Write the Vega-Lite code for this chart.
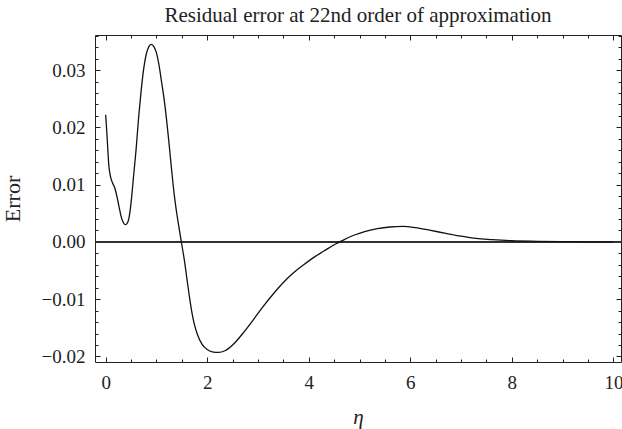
{
  "$schema": "https://vega.github.io/schema/vega-lite/v6.json",
  "width": 526,
  "height": 327,
  "autosize": {"type": "none"},
  "padding": {"left": 95, "top": 35, "right": 1, "bottom": 67},
  "background": "white",
  "config": {
    "view": {"stroke": "#222", "strokeWidth": 1},
    "font": "Liberation Serif",
    "axis": {"grid": false, "domain": false, "labelFont": "Liberation Serif", "titleFont": "Liberation Serif", "labelColor": "#222", "titleColor": "#222", "tickColor": "#222"}
  },
  "title": {"text": "Residual error at 22nd order of approximation", "font": "Liberation Serif", "fontSize": 21, "fontWeight": "normal", "color": "#222", "anchor": "middle", "frame": "group", "baseline": "alphabetic", "offset": 12, "dy": 20},
  "data": {"values": [
    {"eta": 0.00, "err": 0.0222},
    {"eta": 0.02, "err": 0.0195},
    {"eta": 0.04, "err": 0.0165},
    {"eta": 0.06, "err": 0.0136},
    {"eta": 0.09, "err": 0.0116},
    {"eta": 0.13, "err": 0.0104},
    {"eta": 0.18, "err": 0.0094},
    {"eta": 0.22, "err": 0.0080},
    {"eta": 0.26, "err": 0.0063},
    {"eta": 0.30, "err": 0.0046},
    {"eta": 0.34, "err": 0.0035},
    {"eta": 0.38, "err": 0.0030},
    {"eta": 0.42, "err": 0.0032},
    {"eta": 0.46, "err": 0.0042},
    {"eta": 0.50, "err": 0.0068},
    {"eta": 0.55, "err": 0.0115},
    {"eta": 0.60, "err": 0.0162},
    {"eta": 0.65, "err": 0.0218},
    {"eta": 0.70, "err": 0.0265},
    {"eta": 0.75, "err": 0.0303},
    {"eta": 0.80, "err": 0.0328},
    {"eta": 0.85, "err": 0.0341},
    {"eta": 0.90, "err": 0.0345},
    {"eta": 0.95, "err": 0.0341},
    {"eta": 1.00, "err": 0.0330},
    {"eta": 1.05, "err": 0.0309},
    {"eta": 1.10, "err": 0.0280},
    {"eta": 1.15, "err": 0.0250},
    {"eta": 1.20, "err": 0.0213},
    {"eta": 1.25, "err": 0.0170},
    {"eta": 1.30, "err": 0.0125},
    {"eta": 1.35, "err": 0.0083},
    {"eta": 1.40, "err": 0.0050},
    {"eta": 1.45, "err": 0.0022},
    {"eta": 1.50, "err": -0.0005},
    {"eta": 1.55, "err": -0.0032},
    {"eta": 1.60, "err": -0.0064},
    {"eta": 1.65, "err": -0.0096},
    {"eta": 1.70, "err": -0.0124},
    {"eta": 1.75, "err": -0.0145},
    {"eta": 1.80, "err": -0.0160},
    {"eta": 1.90, "err": -0.0179},
    {"eta": 2.00, "err": -0.0188},
    {"eta": 2.10, "err": -0.0192},
    {"eta": 2.22, "err": -0.0193},
    {"eta": 2.35, "err": -0.0190},
    {"eta": 2.50, "err": -0.0180},
    {"eta": 2.70, "err": -0.0160},
    {"eta": 2.90, "err": -0.0137},
    {"eta": 3.10, "err": -0.0113},
    {"eta": 3.30, "err": -0.0091},
    {"eta": 3.50, "err": -0.0071},
    {"eta": 3.70, "err": -0.0054},
    {"eta": 3.90, "err": -0.0040},
    {"eta": 4.10, "err": -0.0027},
    {"eta": 4.30, "err": -0.0016},
    {"eta": 4.50, "err": -0.0005},
    {"eta": 4.70, "err": 0.0004},
    {"eta": 4.90, "err": 0.0012},
    {"eta": 5.10, "err": 0.0018},
    {"eta": 5.35, "err": 0.0023},
    {"eta": 5.60, "err": 0.0026},
    {"eta": 5.85, "err": 0.0027},
    {"eta": 6.10, "err": 0.0025},
    {"eta": 6.40, "err": 0.0020},
    {"eta": 6.70, "err": 0.0015},
    {"eta": 7.00, "err": 0.0010},
    {"eta": 7.30, "err": 0.0006},
    {"eta": 7.60, "err": 0.0004},
    {"eta": 8.00, "err": 0.0002},
    {"eta": 8.50, "err": 0.0001},
    {"eta": 9.00, "err": 0.00003},
    {"eta": 9.50, "err": 0.00001},
    {"eta": 10.00, "err": 0.0}
  ]},
  "layer": [
    {
      "mark": {"type": "rule", "color": "#333", "strokeWidth": 1},
      "encoding": {"y": {"datum": 0, "type": "quantitative", "axis": null}}
    },
    {
      "mark": {"type": "line", "color": "#111", "strokeWidth": 1.3, "interpolate": "monotone"},
      "encoding": {
        "x": {"field": "eta", "type": "quantitative", "scale": {"domain": [-0.21, 10.15], "nice": false, "zero": false},
          "axis": {"orient": "bottom", "values": [0, 2, 4, 6, 8, 10], "ticks": false, "labelFontSize": 19, "labelPadding": 11, "title": "η", "titleFontSize": 21, "titleFontStyle": "italic", "titleFontWeight": "normal", "titlePadding": 14}},
        "y": {"field": "err", "type": "quantitative", "scale": {"domain": [-0.02097, 0.03612], "nice": false, "zero": false},
          "axis": {"orient": "left", "values": [-0.02, -0.01, 0, 0.01, 0.02, 0.03], "format": ".2f", "ticks": false, "labelFontSize": 19, "labelPadding": 10, "title": "Error", "titleFontSize": 22, "titleFontWeight": "normal", "titlePadding": 17}}
      }
    },
    {
      "mark": {"type": "line", "opacity": 0},
      "encoding": {
        "x": {"field": "eta", "type": "quantitative",
          "axis": {"orient": "bottom", "labels": false, "title": null, "values": [0,0.5,1,1.5,2,2.5,3,3.5,4,4.5,5,5.5,6,6.5,7,7.5,8,8.5,9,9.5,10],
            "tickSize": {"condition": {"test": "datum.value % 2 === 0", "value": -5}, "value": -3}}},
        "y": {"field": "err", "type": "quantitative",
          "axis": {"orient": "left", "labels": false, "title": null, "values": [-0.02,-0.018,-0.016,-0.014,-0.012,-0.01,-0.008,-0.006,-0.004,-0.002,0,0.002,0.004,0.006,0.008,0.01,0.012,0.014,0.016,0.018,0.02,0.022,0.024,0.026,0.028,0.03,0.032,0.034,0.036],
            "tickSize": {"condition": {"test": "abs(datum.value*100 - round(datum.value*100)) < 0.000001", "value": -5}, "value": -3}}}
      }
    },
    {
      "mark": {"type": "line", "opacity": 0},
      "encoding": {
        "x": {"field": "eta", "type": "quantitative",
          "axis": {"orient": "top", "labels": false, "title": null, "values": [0,0.5,1,1.5,2,2.5,3,3.5,4,4.5,5,5.5,6,6.5,7,7.5,8,8.5,9,9.5,10],
            "tickSize": {"condition": {"test": "datum.value % 2 === 0", "value": -5}, "value": -3}}},
        "y": {"field": "err", "type": "quantitative",
          "axis": {"orient": "right", "labels": false, "title": null, "values": [-0.02,-0.018,-0.016,-0.014,-0.012,-0.01,-0.008,-0.006,-0.004,-0.002,0,0.002,0.004,0.006,0.008,0.01,0.012,0.014,0.016,0.018,0.02,0.022,0.024,0.026,0.028,0.03,0.032,0.034,0.036],
            "tickSize": {"condition": {"test": "abs(datum.value*100 - round(datum.value*100)) < 0.000001", "value": -5}, "value": -3}}}
      }
    }
  ],
  "resolve": {"axis": {"x": "independent", "y": "independent"}}
}
